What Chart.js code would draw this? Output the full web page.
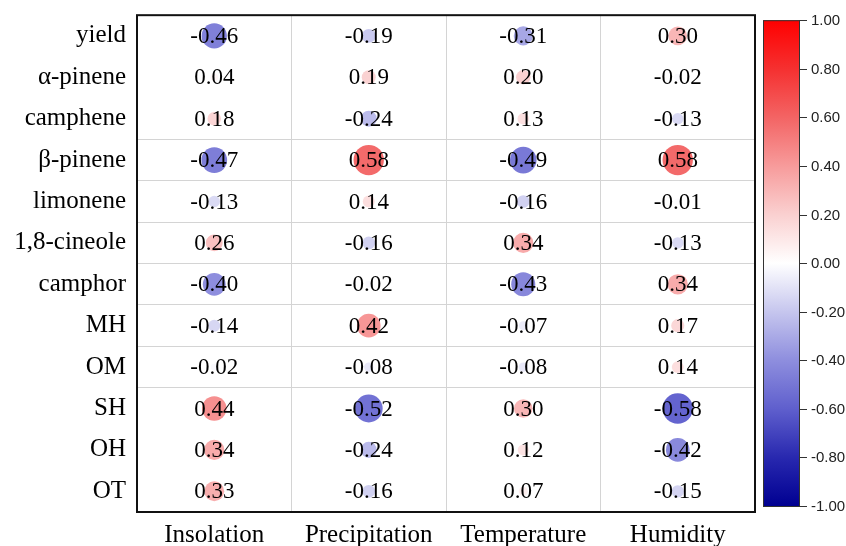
<!DOCTYPE html>
<html>
<head>
<meta charset="utf-8">
<script src="https://cdn.jsdelivr.net/npm/chart.js@4/dist/chart.umd.min.js"></script>
<style>
  body { margin: 0; background: #fff; }
  #c { display: block; }
</style>
</head>
<body>
<canvas id="c" width="846" height="546"></canvas>
<script>
// rows (top to bottom) and columns of the correlation table
const rowLabels = ['yield', 'α-pinene', 'camphene', 'β-pinene', 'limonene', '1,8-cineole', 'camphor', 'MH', 'OM', 'SH', 'OH', 'OT'];
const colLabels = ['Insolation', 'Precipitation', 'Temperature', 'Humidity'];

const insolation    = [-0.46, 0.04, 0.18, -0.47, -0.13, 0.26, -0.40, -0.14, -0.02, 0.44, 0.34, 0.33];
const precipitation = [-0.19, 0.19, -0.24, 0.58, 0.14, -0.16, -0.02, 0.42, -0.08, -0.52, -0.24, -0.16];
const temperature   = [-0.31, 0.20, 0.13, -0.49, -0.16, 0.34, -0.43, -0.07, -0.08, 0.30, 0.12, 0.07];
const humidity      = [0.30, -0.02, -0.13, 0.58, -0.01, -0.13, 0.34, 0.17, 0.14, -0.58, -0.42, -0.15];

const cbTicks = [1.0, 0.8, 0.6, 0.4, 0.2, 0.0, -0.2, -0.4, -0.6, -0.8, -1.0];

// colour map (blue - white - red)
const cmapStops = [-1, -0.8, -0.6, -0.4, -0.2, 0, 0.2, 0.4, 0.6, 0.8, 1];
const cmapColors = [
  [0, 0, 145], [40, 40, 175], [95, 95, 205], [142, 142, 222], [198, 198, 238],
  [255, 255, 255],
  [250, 208, 208], [247, 155, 155], [243, 100, 100], [245, 48, 48], [255, 0, 0]
];

function cmap(v) {
  v = Math.max(-1, Math.min(1, v));
  for (let i = 0; i < cmapStops.length - 1; i++) {
    if (v <= cmapStops[i + 1]) {
      const t = (v - cmapStops[i]) / (cmapStops[i + 1] - cmapStops[i]);
      const a = cmapColors[i], b = cmapColors[i + 1];
      const c = a.map((x, k) => Math.round(x + (b[k] - x) * t));
      return 'rgb(' + c.join(',') + ')';
    }
  }
  return 'rgb(255,0,0)';
}

const columns = [insolation, precipitation, temperature, humidity];
const points = [];
columns.forEach((vals, c) => {
  vals.forEach((v, r) => points.push({ x: colLabels[c], y: rowLabels[r], v: v }));
});

const SERIF = "'Liberation Serif', 'Times New Roman', serif";
Chart.defaults.font.family = SERIF;
Chart.defaults.color = '#000';

const gridGray = '#d4d4d4';

const valueText = {
  id: 'valueText',
  afterDatasetsDraw(chart) {
    const ctx = chart.ctx;
    const meta = chart.getDatasetMeta(0);
    const ds = chart.data.datasets[0].data;
    ctx.save();
    ctx.font = '23px ' + SERIF;
    ctx.fillStyle = '#000';
    ctx.textAlign = 'center';
    ctx.textBaseline = 'middle';
    meta.data.forEach((el, i) => {
      ctx.fillText(ds[i].v.toFixed(2), el.x, el.y + 1);
    });
    ctx.restore();
  }
};

const frame = {
  id: 'frame',
  beforeDatasetsDraw(chart) {
    const { ctx, chartArea: a } = chart;
    ctx.save();
    ctx.strokeStyle = '#111';
    ctx.lineWidth = 2;
    ctx.strokeRect(a.left, a.top, a.right - a.left, a.bottom - a.top);
    ctx.restore();
  }
};

const colorBar = {
  id: 'colorBar',
  afterDraw(chart) {
    const { ctx, chartArea: a } = chart;
    const x0 = a.right + 8, x1 = x0 + 36;
    const y0 = a.top + 5, y1 = a.bottom - 6;
    const yOf = v => y0 + (1 - v) / 2 * (y1 - y0);
    ctx.save();
    const g = ctx.createLinearGradient(0, y0, 0, y1);
    cmapStops.forEach((s, i) => g.addColorStop((1 - s) / 2, 'rgb(' + cmapColors[i].join(',') + ')'));
    ctx.fillStyle = g;
    ctx.fillRect(x0, y0, x1 - x0, y1 - y0);
    ctx.strokeStyle = '#333';
    ctx.lineWidth = 1;
    ctx.strokeRect(x0 + 0.5, y0 + 0.5, x1 - x0, y1 - y0);
    ctx.font = "15px 'Liberation Sans', Arial, sans-serif";
    ctx.fillStyle = '#222';
    ctx.textAlign = 'left';
    ctx.textBaseline = 'middle';
    cbTicks.forEach(t => {
      const y = Math.round(yOf(t)) + 0.5;
      ctx.beginPath();
      ctx.moveTo(x1, y);
      ctx.lineTo(x1 + 8, y);
      ctx.stroke();
      ctx.fillText(t.toFixed(2), x1 + 12, y);
    });
    ctx.restore();
  }
};

new Chart(document.getElementById('c'), {
  type: 'bubble',
  data: {
    datasets: [{
      data: points,
      borderWidth: 0,
      backgroundColor: ctx => cmap(ctx.raw ? ctx.raw.v : 0),
      radius: ctx => 3 + 21 * Math.abs(ctx.raw ? ctx.raw.v : 0),
      hoverRadius: 0
    }]
  },
  options: {
    responsive: false,
    animation: false,
    layout: { padding: { left: 10, top: 13, right: 91, bottom: 0 } },
    plugins: { legend: { display: false }, tooltip: { enabled: false } },
    scales: {
      x: {
        type: 'category',
        labels: colLabels,
        offset: true,
        border: { display: false },
        grid: {
          offset: true,
          drawTicks: false,
          lineWidth: 1,
          color: ctx => (ctx.index >= 1 && ctx.index <= 3) ? gridGray : 'rgba(0,0,0,0)'
        },
        ticks: { font: { size: 25 }, color: '#000', padding: 8, maxRotation: 0 },
        afterFit: s => { s.height = 34; s.paddingLeft = 0; s.paddingRight = 0; }
      },
      y: {
        type: 'category',
        labels: rowLabels,
        offset: true,
        border: { display: false },
        grid: {
          offset: true,
          drawTicks: false,
          lineWidth: 1,
          color: ctx => (ctx.index >= 3 && ctx.index <= 9) ? gridGray : 'rgba(0,0,0,0)'
        },
        ticks: { font: { size: 25 }, color: '#000', padding: 11, autoSkip: false },
        afterFit: s => { s.width = 127; s.paddingTop = 0; s.paddingBottom = 0; }
      }
    }
  },
  plugins: [frame, valueText, colorBar]
});
</script>
</body>
</html>
